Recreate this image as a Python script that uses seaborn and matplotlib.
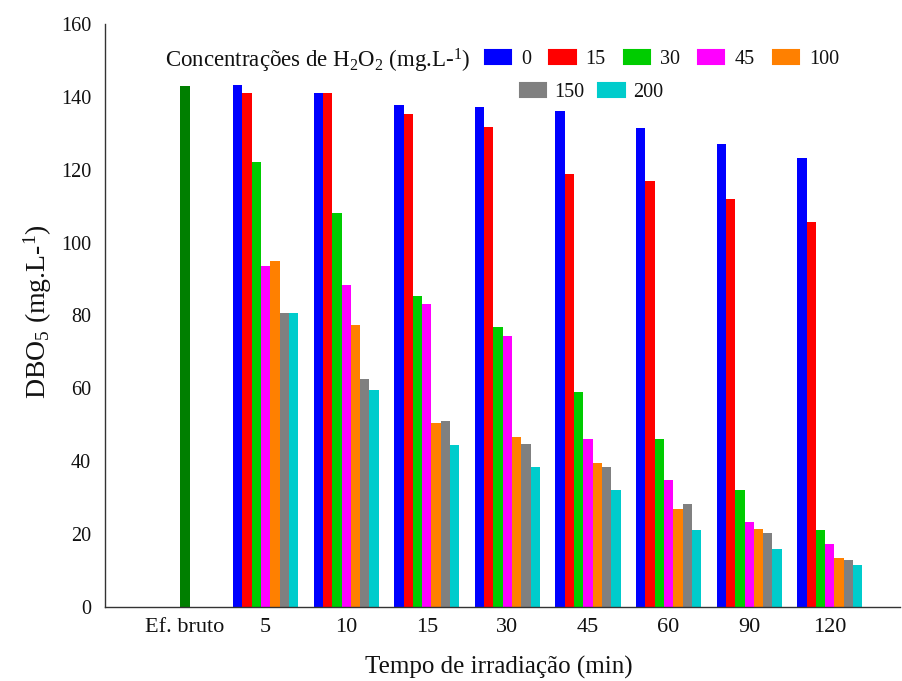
import matplotlib
matplotlib.use("Agg")
import matplotlib.pyplot as plt
import seaborn as sns
import pandas as pd
from matplotlib.patches import Patch

# ---- data ----
categories = ['Ef. bruto', '5', '10', '15', '30', '45', '60', '90', '120']
times = ['5', '10', '15', '30', '45', '60', '90', '120']
ef_bruto = [143.0]
conc_levels = ['0', '15', '30', '45', '100', '150', '200']
c0 = [143.2, 141.2, 137.9, 137.3, 136.2, 131.5, 127.2, 123.1]
c15 = [141.2, 141.2, 135.2, 131.6, 118.8, 116.8, 112.1, 105.7]
c30 = [122.2, 108.0, 85.3, 76.9, 58.9, 46.1, 32.0, 21.0]
c45 = [93.7, 88.4, 83.1, 74.4, 46.1, 34.8, 23.4, 17.4]
c100 = [95.0, 77.3, 50.6, 46.7, 39.4, 26.8, 21.4, 13.4]
c150 = [80.6, 62.6, 51.0, 44.8, 38.5, 28.2, 20.4, 13.0]
c200 = [80.6, 59.5, 44.5, 38.5, 32.1, 21.0, 16.0, 11.6]
series = [c0, c15, c30, c45, c100, c150, c200]
colors = ['#0000FF', '#FF0000', '#00CC00', '#FF00FF', '#FF8000', '#808080', '#00CCCC']
ef_color = '#007F00'

rows = []
for lvl, vals in zip(conc_levels, series):
    for t, v in zip(times, vals):
        rows.append({'tempo': t, 'conc': lvl, 'dbo': v})
df = pd.DataFrame(rows)
df_ef = pd.DataFrame({'tempo': ['Ef. bruto'], 'dbo': ef_bruto})

# ---- style ----
sns.set_style('white')
plt.rcParams['font.family'] = ['Liberation Serif', 'DejaVu Serif']
plt.rcParams['mathtext.fontset'] = 'custom'
plt.rcParams['mathtext.rm'] = 'Liberation Serif'
plt.rcParams['mathtext.it'] = 'Liberation Serif:italic'
plt.rcParams['mathtext.bf'] = 'Liberation Serif:bold'

fig = plt.figure(figsize=(9.02, 6.81), dpi=100)
ax = fig.add_axes([105/902, 1-607/681, (900-105)/902, (607-24)/681])

sns.barplot(data=df, x='tempo', y='dbo', hue='conc', order=categories,
            hue_order=conc_levels, palette=colors, width=0.807, saturation=1,
            errorbar=None, ax=ax, legend=False, linewidth=0)
sns.barplot(data=df_ef, x='tempo', y='dbo', order=categories, color=ef_color,
            width=0.115, saturation=1, errorbar=None, ax=ax, linewidth=0)

ax.set_xlim(-0.993, (900-185)/80.6)
ax.set_ylim(0, 160)
ax.set_yticks(range(0, 161, 20))
ax.tick_params(axis='y', direction='out', length=4, width=1, labelsize=14.5, pad=6,
               color='#333333', labelcolor='#111111')
ax.tick_params(axis='x', direction='in', length=4, width=1, labelsize=16, pad=8,
               color='#333333', labelcolor='#111111')
for s in ['top', 'right']:
    ax.spines[s].set_visible(False)
for s in ['left', 'bottom']:
    ax.spines[s].set_color('#333333')
    ax.spines[s].set_linewidth(1.0)

ax.set_xlabel('Tempo de irradiação (min)', fontsize=18, color='#111111')
ax.set_ylabel('DBO$_5$ (mg.L-$^1$)', fontsize=20, color='#111111')
ax.xaxis.set_label_coords((499-105)/795, (607-667)/583)
ax.yaxis.set_label_coords((38-105)/795, (607-312)/583)
ax.xaxis.label.set_va('center')
ax.yaxis.label.set_va('center')

# ---- legend ----
fig.text(165/902, 1-61/681, 'Concentrações de H$_2$O$_2$ (mg.L-$^1$)', fontsize=16.5,
         va='center', ha='left', color='#111111')
h1 = [Patch(facecolor=c, edgecolor=c, linewidth=1.5, joinstyle='round') for c in colors[:5]]
h2 = [Patch(facecolor=c, edgecolor=c, linewidth=1.5, joinstyle='round') for c in colors[5:]]
leg1 = fig.legend(h1, conc_levels[:5], loc='upper left', bbox_to_anchor=(485/902, 1-50/681),
                  ncol=5, frameon=False, fontsize=14.5, handlelength=1.3, handleheight=0.72,
                  handletextpad=0.5, columnspacing=0.9, borderpad=0, borderaxespad=0,
                  labelcolor='#111111')
leg2 = fig.legend(h2, conc_levels[5:], loc='upper left', bbox_to_anchor=(520/902, 1-83/681),
                  ncol=2, frameon=False, fontsize=14.5, handlelength=1.3, handleheight=0.72,
                  handletextpad=0.4, columnspacing=0.7, borderpad=0, borderaxespad=0,
                  labelcolor='#111111')

fig.savefig('out.png', dpi=100)
